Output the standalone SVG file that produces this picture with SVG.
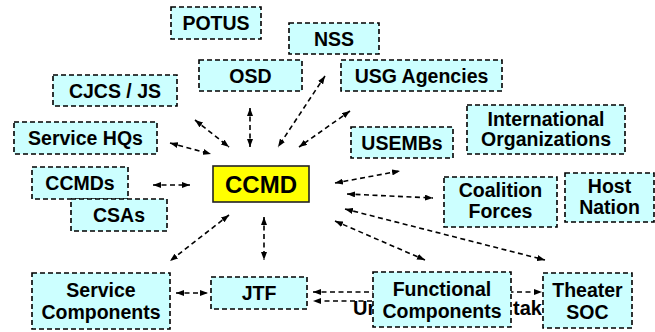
<svg xmlns="http://www.w3.org/2000/svg" width="655" height="332" viewBox="0 0 655 332">
  <defs>
    <marker id="head" viewBox="0 0 8 6" refX="8" refY="3" markerWidth="8" markerHeight="6" markerUnits="userSpaceOnUse" orient="auto-start-reverse">
      <path d="M0,0 L8,3 L0,6 Z" fill="#000"/>
    </marker>
  </defs>
  <style>
    .box { fill: #ccffff; stroke: #000; stroke-width: 1.6; stroke-dasharray: 5 3; }
    .main { fill: #ffff00; stroke: #222; stroke-width: 1.6; }
    .lbl { font-family: "Liberation Sans", Arial, sans-serif; font-weight: bold; font-size: 19.5px; fill: #000; text-anchor: middle; }
    .big { font-size: 24px; }
    .link { fill: none; stroke: #000; stroke-width: 1.6; stroke-dasharray: 5 3.5; marker-start: url(#head); marker-end: url(#head); }
    .oneway { marker-start: none; }
    .under { font-family: "Liberation Sans", Arial, sans-serif; font-weight: bold; font-size: 20px; fill: #000; }
  </style>
  <rect width="655" height="332" fill="#fff"/>

  <!-- caption text partly covered by the bottom boxes -->
  <text class="under" x="353" y="315">Un</text>
  <text class="under" x="513" y="315">tak</text>

  <g id="connectors">
    <line class="link" x1="195" y1="120" x2="229" y2="147"/>
    <line class="link" x1="250" y1="108" x2="250" y2="147"/>
    <line class="link" x1="170" y1="143" x2="211" y2="154"/>
    <line class="link" x1="325" y1="76" x2="278" y2="147"/>
    <line class="link" x1="350" y1="111" x2="299" y2="147"/>
    <line class="link" x1="335" y1="183" x2="400" y2="171"/>
    <line class="link" x1="347" y1="194" x2="433" y2="198"/>
    <line class="link" x1="345" y1="209" x2="545" y2="260"/>
    <line class="link" x1="335" y1="221" x2="425" y2="260"/>
    <line class="link" x1="153" y1="185" x2="190" y2="185"/>
    <line class="link" x1="229" y1="215" x2="170" y2="261"/>
    <line class="link" x1="264" y1="217" x2="264" y2="260"/>
    <line class="link" x1="176" y1="293" x2="208" y2="293"/>
    <line class="link" x1="313" y1="292" x2="542" y2="292"/>
    <line class="link oneway" x1="372" y1="301" x2="313" y2="301"/>
  </g>

  <g id="potus"><rect class="box" x="171" y="7" width="90" height="32"/><text class="lbl" x="216" y="30">POTUS</text></g>
  <g id="nss"><rect class="box" x="289" y="23" width="90" height="31"/><text class="lbl" x="334" y="45.5">NSS</text></g>
  <g id="osd"><rect class="box" x="199" y="60" width="103" height="31"/><text class="lbl" x="250.5" y="82.5">OSD</text></g>
  <g id="usg-agencies"><rect class="box" x="341" y="60" width="161" height="31"/><text class="lbl" x="421.5" y="82.5">USG Agencies</text></g>
  <g id="cjcs-js"><rect class="box" x="53" y="75" width="124" height="31"/><text class="lbl" x="115" y="97.5">CJCS / JS</text></g>
  <g id="service-hqs"><rect class="box" x="14" y="122" width="143" height="32"/><text class="lbl" x="85.5" y="145">Service HQs</text></g>
  <g id="intl-orgs"><rect class="box" x="467" y="105" width="158" height="49"/><text class="lbl" x="546" y="126">International</text><text class="lbl" x="546" y="146">Organizations</text></g>
  <g id="usembs"><rect class="box" x="351" y="127" width="102" height="31"/><text class="lbl" x="402" y="149.5">USEMBs</text></g>
  <g id="ccmds"><rect class="box" x="32" y="167" width="96" height="32"/><text class="lbl" x="80" y="190">CCMDs</text></g>
  <g id="csas"><rect class="box" x="71" y="199" width="96" height="32"/><text class="lbl" x="119" y="222">CSAs</text></g>
  <g id="ccmd"><rect class="main" x="213" y="166" width="96" height="36"/><text class="lbl big" x="261" y="193">CCMD</text></g>
  <g id="coalition-forces"><rect class="box" x="444" y="177" width="113" height="50"/><text class="lbl" x="500.5" y="197">Coalition</text><text class="lbl" x="500.5" y="218">Forces</text></g>
  <g id="host-nation"><rect class="box" x="565" y="173" width="89" height="49"/><text class="lbl" x="609.5" y="193">Host</text><text class="lbl" x="609.5" y="213.5">Nation</text></g>
  <g id="service-components"><rect class="box" x="32" y="273" width="138" height="56"/><text class="lbl" x="101" y="297">Service</text><text class="lbl" x="101" y="319">Components</text></g>
  <g id="jtf"><rect class="box" x="211" y="277" width="96" height="32"/><text class="lbl" x="259" y="300">JTF</text></g>
  <g id="functional-components"><rect class="box" x="373" y="272" width="138" height="55"/><text class="lbl" x="442" y="296">Functional</text><text class="lbl" x="442" y="318">Components</text></g>
  <g id="theater-soc"><rect class="box" x="543" y="273" width="89" height="55"/><text class="lbl" x="587.5" y="297">Theater</text><text class="lbl" x="587.5" y="319">SOC</text></g>
</svg>
